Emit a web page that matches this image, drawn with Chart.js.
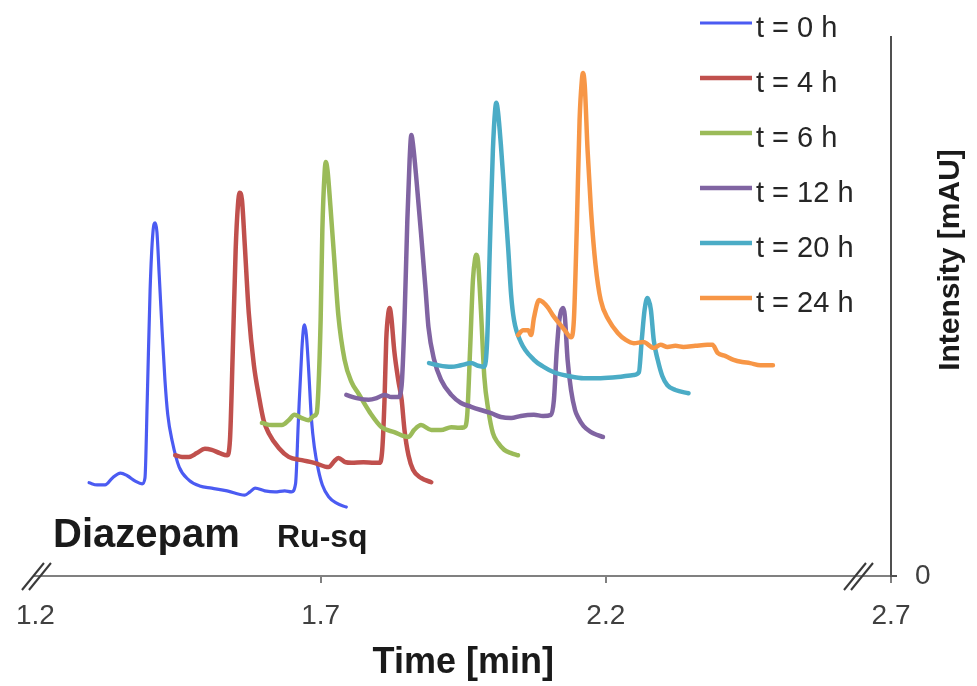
<!DOCTYPE html>
<html>
<head>
<meta charset="utf-8">
<title>Chromatogram overlay</title>
<script src="https://cdn.jsdelivr.net/npm/chart.js@4.4.1/dist/chart.umd.min.js"></script>
<style>
  html, body { margin: 0; padding: 0; background: #fff; }
  #chart { display: block; }
</style>
</head>
<body>
<canvas id="chart" width="977" height="686"></canvas>
<script>
// series names and colours
const seriesLabels = ['t = 0 h', 't = 4 h', 't = 6 h', 't = 12 h', 't = 20 h', 't = 24 h'];
const seriesColors = ['#4b5bf2', '#c0504d', '#9bbb59', '#8064a2', '#4bacc6', '#f79646'];

// axis ticks
const xTicks = [1.2, 1.7, 2.2, 2.7];
const yTicks = [0];

// t = 0 h  (time in min, intensity in mAU, offset traces)
const timeT0 = [1.294, 1.308, 1.322, 1.335, 1.349, 1.361, 1.375, 1.387, 1.392, 1.396, 1.401, 1.406, 1.410, 1.413, 1.417, 1.422, 1.427, 1.432, 1.440, 1.452, 1.469, 1.488, 1.509, 1.536, 1.567, 1.576, 1.585, 1.602, 1.620, 1.637, 1.649, 1.656, 1.661, 1.667, 1.670, 1.672, 1.675, 1.679, 1.684, 1.689, 1.696, 1.703, 1.714, 1.728, 1.745];
const intT0  = [17.3, 16.9, 16.9, 18.2, 19.1, 18.6, 17.6, 17.1, 18.2, 32.7, 53.1, 63.8, 65.5, 63.8, 55.8, 45.6, 36.4, 29.9, 24.9, 20.2, 17.8, 16.7, 16.3, 15.8, 15.0, 15.6, 16.3, 15.8, 15.6, 15.8, 15.6, 17.1, 28.9, 41.9, 46.0, 46.6, 44.7, 38.2, 28.9, 23.9, 19.7, 16.9, 14.7, 13.5, 12.8];

// t = 4 h
const timeT4 = [1.445, 1.457, 1.469, 1.483, 1.497, 1.509, 1.523, 1.536, 1.541, 1.546, 1.551, 1.555, 1.558, 1.562, 1.567, 1.574, 1.583, 1.592, 1.600, 1.609, 1.627, 1.644, 1.667, 1.689, 1.714, 1.724, 1.731, 1.744, 1.754, 1.775, 1.794, 1.803, 1.808, 1.812, 1.815, 1.819, 1.821, 1.824, 1.829, 1.836, 1.842, 1.847, 1.854, 1.862, 1.876, 1.894];
const intT4  = [22.4, 22.1, 22.1, 22.8, 23.6, 23.4, 22.8, 22.4, 25.2, 41.9, 60.5, 68.8, 71.1, 69.8, 61.4, 48.8, 39.1, 33.2, 28.9, 26.5, 23.7, 22.1, 21.5, 21.0, 20.2, 21.3, 21.9, 21.1, 21.0, 21.1, 21.0, 21.0, 23.4, 32.7, 43.8, 49.0, 49.7, 47.9, 41.9, 36.4, 32.7, 27.1, 22.4, 19.7, 18.2, 17.4];

// t = 6 h
const timeT6 = [1.597, 1.614, 1.632, 1.644, 1.654, 1.667, 1.679, 1.688, 1.693, 1.696, 1.700, 1.703, 1.707, 1.709, 1.712, 1.717, 1.724, 1.731, 1.742, 1.754, 1.766, 1.786, 1.807, 1.829, 1.854, 1.864, 1.876, 1.894, 1.911, 1.929, 1.943, 1.952, 1.957, 1.962, 1.967, 1.971, 1.973, 1.976, 1.981, 1.987, 1.994, 2.002, 2.011, 2.022, 2.034, 2.046];
const intT6  = [28.4, 28.0, 28.0, 28.9, 29.9, 29.3, 28.9, 29.7, 30.2, 34.5, 47.5, 64.2, 74.9, 76.8, 75.3, 68.8, 58.6, 48.4, 40.1, 36.0, 33.9, 30.4, 27.6, 26.7, 25.8, 27.1, 28.0, 27.1, 27.1, 27.6, 27.5, 27.6, 29.9, 41.9, 54.9, 59.0, 59.6, 58.3, 49.4, 36.9, 30.8, 26.5, 24.7, 23.4, 22.8, 22.4];

// t = 12 h
const timeT12 = [1.745, 1.763, 1.784, 1.798, 1.812, 1.824, 1.836, 1.842, 1.847, 1.852, 1.856, 1.859, 1.862, 1.868, 1.876, 1.884, 1.889, 1.899, 1.911, 1.929, 1.946, 1.964, 1.981, 1.999, 2.016, 2.034, 2.051, 2.074, 2.090, 2.104, 2.109, 2.114, 2.119, 2.125, 2.128, 2.133, 2.139, 2.146, 2.151, 2.161, 2.174, 2.184, 2.195];
const intT12  = [33.6, 33.0, 32.7, 33.0, 33.6, 33.2, 33.2, 35.4, 47.5, 66.0, 77.2, 81.8, 80.0, 73.5, 63.6, 53.1, 46.2, 40.1, 36.4, 33.6, 32.1, 31.4, 30.8, 30.2, 29.5, 29.3, 29.7, 29.9, 29.7, 29.9, 32.7, 41.9, 47.9, 49.7, 48.4, 40.1, 34.5, 30.8, 29.5, 27.8, 26.7, 26.2, 25.8];

// t = 20 h
const timeT20 = [1.890, 1.906, 1.929, 1.946, 1.964, 1.976, 1.987, 1.992, 1.997, 2.002, 2.006, 2.008, 2.011, 2.016, 2.022, 2.029, 2.034, 2.039, 2.051, 2.074, 2.091, 2.109, 2.135, 2.161, 2.191, 2.221, 2.249, 2.258, 2.263, 2.268, 2.273, 2.279, 2.284, 2.291, 2.299, 2.308, 2.322, 2.345];
const intT20  = [39.5, 39.1, 38.8, 39.1, 39.5, 39.0, 38.8, 43.8, 62.3, 79.0, 86.5, 87.8, 86.1, 80.0, 71.1, 60.5, 52.1, 47.5, 43.4, 40.1, 38.8, 37.8, 37.1, 36.7, 36.7, 36.9, 37.3, 37.8, 43.8, 49.4, 51.6, 49.4, 43.8, 40.1, 37.1, 35.4, 34.5, 33.9];

// t = 24 h
const timeT24 = [2.046, 2.055, 2.064, 2.069, 2.074, 2.083, 2.090, 2.098, 2.107, 2.118, 2.128, 2.139, 2.144, 2.149, 2.154, 2.158, 2.160, 2.163, 2.168, 2.174, 2.182, 2.191, 2.205, 2.221, 2.235, 2.249, 2.266, 2.284, 2.296, 2.308, 2.322, 2.336, 2.357, 2.378, 2.387, 2.396, 2.410, 2.424, 2.439, 2.453, 2.471, 2.493];
const intT24  = [44.7, 45.6, 45.6, 44.7, 47.9, 51.2, 50.8, 49.9, 48.4, 46.9, 45.6, 44.3, 47.5, 64.2, 84.6, 92.0, 93.3, 91.1, 79.0, 67.9, 57.7, 51.2, 47.5, 45.1, 43.8, 43.2, 43.4, 42.3, 42.9, 42.5, 42.7, 42.5, 42.7, 42.9, 42.9, 41.4, 40.8, 40.1, 39.7, 39.5, 39.1, 39.1];

const seriesTimes = [timeT0, timeT4, timeT6, timeT12, timeT20, timeT24];
const seriesInts = [intT0, intT4, intT6, intT12, intT20, intT24];

const FONT = '"Liberation Sans", Arial, sans-serif';
Chart.defaults.font.family = FONT;

const datasets = seriesLabels.map((label, i) => ({
    label: label,
    data: seriesTimes[i].map((t, j) => ({ x: t, y: seriesInts[i][j] })),
    borderColor: seriesColors[i],
    borderWidth: i === 0 ? 3.2 : 4.5,
    pointRadius: 0,
    cubicInterpolationMode: 'monotone',
    borderCapStyle: 'round',
    borderJoinStyle: 'round',
    fill: false,
    order: seriesLabels.length - i  // later runs drawn on top
}));

// breaks, annotations, rotated y title and the legend
const decorations = {
    id: 'decorations',
    afterDraw(chart) {
        const ctx = chart.ctx;
        const xs = chart.scales.x;
        const ys = chart.scales.y;
        const axisY = ys.getPixelForValue(0);

        ctx.save();
        // axis break marks "//"
        ctx.strokeStyle = '#3a3a3a';
        ctx.lineWidth = 2;
        [xs.getPixelForValue(1.2) + 1, xs.getPixelForValue(2.65) - 4].forEach(cx => {
            [-3.5, 3.5].forEach(dx => {
                ctx.beginPath();
                ctx.moveTo(cx + dx - 11, axisY + 14);
                ctx.lineTo(cx + dx + 11, axisY - 13);
                ctx.stroke();
            });
        });

        // peak names
        ctx.fillStyle = '#1a1a1a';
        ctx.textBaseline = 'alphabetic';
        ctx.textAlign = 'left';
        ctx.font = 'bold 40px ' + FONT;
        ctx.fillText('Diazepam', 53, 547);
        ctx.font = 'bold 32px ' + FONT;
        ctx.fillText('Ru-sq', 277, 547);

        // y axis title, reading bottom to top
        ctx.save();
        ctx.translate(959, 260);
        ctx.rotate(-Math.PI / 2);
        ctx.textAlign = 'center';
        ctx.font = 'bold 30px ' + FONT;
        ctx.fillText('Intensity [mAU]', 0, 0);
        ctx.restore();

        // legend
        ctx.font = '29px ' + FONT;
        ctx.fillStyle = '#262626';
        chart.data.datasets.forEach((ds, i) => {
            const ly = 23 + 55 * i;
            ctx.strokeStyle = ds.borderColor;
            ctx.lineWidth = i === 0 ? 3 : 4.5;
            ctx.beginPath();
            ctx.moveTo(700, ly);
            ctx.lineTo(752, ly);
            ctx.stroke();
            ctx.fillText(ds.label, 756, ly + 14);
        });
        ctx.restore();
    }
};

new Chart(document.getElementById('chart'), {
    type: 'line',
    data: { datasets: datasets },
    options: {
        responsive: false,
        animation: false,
        devicePixelRatio: 1,
        layout: { padding: { top: 37, left: 29, right: 0, bottom: 0 } },
        plugins: {
            legend: { display: false },
            tooltip: { enabled: false }
        },
        scales: {
            x: {
                type: 'linear',
                min: 1.2,
                max: 2.7,
                afterBuildTicks: s => { s.ticks = xTicks.map(v => ({ value: v })); },
                afterFit: s => { s.height = 110; },
                grid: {
                    drawOnChartArea: false,
                    tickLength: 7,
                    lineWidth: 2,
                    color: c => (c.tick && c.tick.value === 1.2) ? 'rgba(0,0,0,0)' : '#808080'
                },
                border: { display: true, color: '#808080', width: 2 },
                ticks: {
                    font: { size: 28 },
                    color: '#404040',
                    padding: 16,
                    maxRotation: 0,
                    callback: v => v.toFixed(1)
                },
                title: {
                    display: true,
                    text: 'Time [min]',
                    color: '#1a1a1a',
                    font: { size: 36, weight: 'bold' },
                    padding: { top: 0, bottom: 1 }
                }
            },
            y: {
                position: 'right',
                min: 0,
                max: 100,
                afterBuildTicks: s => { s.ticks = yTicks.map(v => ({ value: v })); },
                afterFit: s => { s.width = 86; },
                grid: {
                    drawOnChartArea: false,
                    tickLength: 6,
                    lineWidth: 2,
                    color: '#505050'
                },
                border: { display: true, color: '#505050', width: 2 },
                ticks: {
                    font: { size: 28 },
                    color: '#404040',
                    padding: 18
                }
            }
        }
    },
    plugins: [decorations]
});
</script>
</body>
</html>
